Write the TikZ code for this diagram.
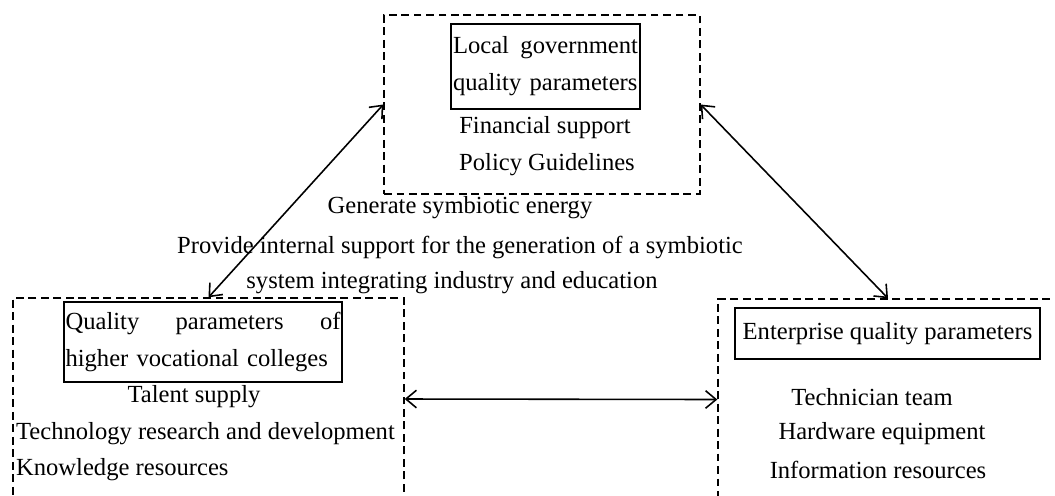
\documentclass[tikz,border=0pt]{standalone}
\usepackage{fontspec}
\setmainfont{Liberation Serif}
\usetikzlibrary{arrows.meta, positioning}

\begin{document}
\begin{tikzpicture}[
    x=0.02cm, y=-0.02cm,
    every node/.style={font=\fontsize{14}{21}\selectfont},
    area/.style={draw, dash pattern=on 4.5pt off 2.6pt, line width=0.8pt, inner sep=0pt},
    pbox/.style={draw, line width=0.9pt, inner sep=1pt, align=left},
    txt/.style={inner sep=1pt},
    link/.style={{Straight Barb[length=6pt,width=10pt]}-{Straight Barb[length=6pt,width=10pt]}, line width=0.9pt}
  ]
  \useasboundingbox (0,0) rectangle (1055,495);
  \clip (0,0) rectangle (1055,495);

  \node[area, minimum width=6.32cm, minimum height=3.58cm] (govarea) at (542,104.5) {};
  \node[area, minimum width=7.82cm, minimum height=4.04cm] (colarea) at (208.5,399) {};
  \node[area, minimum width=6.8cm, minimum height=4.02cm] (entarea) at (888,399.5) {};

  \node[pbox, text width=3.7cm, minimum height=1.7cm] (govbox) at (545.5,66.5) {Local\hfill government\\quality parameters};
  \node[txt] (finance) at (545,128) {Financial support};
  \node[txt] (policy) at (547,165) {Policy Guidelines};

  \node[txt] (energy) at (460,208) {Generate symbiotic energy};
  \node[txt] (support) at (460,247) {Provide internal support for the generation of a symbiotic};
  \node[txt] (system) at (452,283) {system integrating industry and education};

  \node[pbox, text width=5.5cm, minimum height=1.6cm] (colbox) at (203,342) {Quality\hfill parameters\hfill of\\higher vocational colleges};
  \node[txt] (talent) at (194,397) {Talent supply};
  \node[txt, anchor=west] (research) at (14,434) {Technology research and development};
  \node[txt, anchor=west] (knowledge) at (14,470) {Knowledge resources};

  \node[pbox, align=center, minimum width=6.1cm, minimum height=1.02cm] (entbox) at (887.5,333.5) {Enterprise quality parameters};
  \node[txt] (team) at (872,397) {Technician team};
  \node[txt] (hardware) at (882,434) {Hardware equipment};
  \node[txt] (info) at (878,470) {Information resources};

  \draw[link] (govarea.west) -- (colarea.north);
  \draw[link] (govarea.east) -- (entarea.north);
  \draw[link] (colarea.east) -- (entarea.west);
\end{tikzpicture}
\end{document}
